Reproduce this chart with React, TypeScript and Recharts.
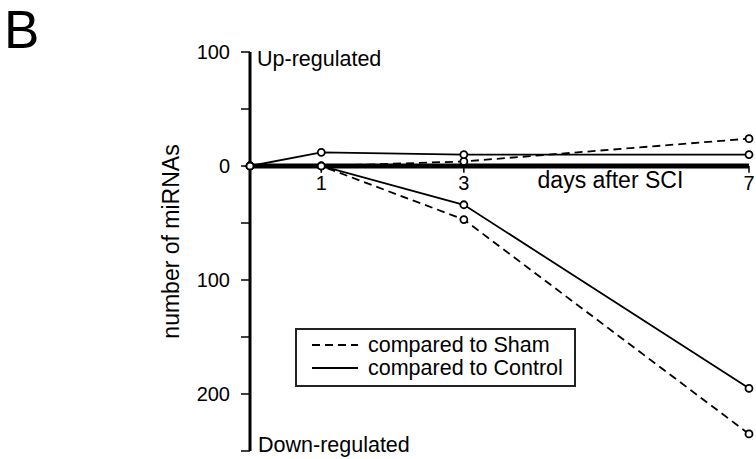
import React from "react";
import {
  LineChart,
  Line,
  XAxis,
  YAxis,
  ReferenceLine,
  ReferenceDot,
} from "recharts";

// days after spinal cord injury
const days = [0, 1, 3, 7];
// up-regulated miRNAs (positive), down-regulated (negative)
const shamUp = [0, 0, 4, 24];
const controlUp = [0, 12, 10, 10];
const shamDown = [0, 0, -47, -235];
const controlDown = [0, 0, -34, -195];

const yTicks = [100, 50, 0, -50, -100, -150, -200, -250];
const yLabelled = [100, 0, -100, -200];
const xTicks = [1, 3, 7];

const data = days.map((d, i) => ({
  day: d,
  shamUp: shamUp[i],
  controlUp: controlUp[i],
  shamDown: shamDown[i],
  controlDown: controlDown[i],
}));

const FONT = "'Liberation Sans', Arial, Helvetica, sans-serif";
// open circles, never dashed even on dashed series
const dot = { r: 3.5, stroke: "#000", strokeWidth: 1.8, fill: "#fff", strokeDasharray: "none" };

const App: React.FC = () => {
  return (
    <div style={{ position: "absolute", left: 0, top: 0, width: 756, height: 459, background: "#fff", fontFamily: FONT }}>
      <div style={{ position: "absolute", left: 4, top: 3, fontSize: 53, lineHeight: 1, color: "#000" }}>B</div>
      <LineChart width={756} height={459} data={data} margin={{ top: 52, right: 7, bottom: 8, left: 0 }} style={{ fontFamily: FONT }}>
        <XAxis dataKey="day" type="number" domain={[0, 7]} hide />
        <YAxis
          type="number"
          domain={[-250, 100]}
          ticks={yTicks}
          interval={0}
          width={250}
          tickSize={9}
          tickMargin={11}
          tickFormatter={(v: number) => (yLabelled.includes(v) ? String(Math.abs(v)) : "")}
          tick={{ fill: "#000", fontSize: 20 }}
          tickLine={{ stroke: "#000", strokeWidth: 1.5 }}
          axisLine={{ stroke: "#000", strokeWidth: 3 }}
          label={({ viewBox }: any) => (
            <text
              x={viewBox.x + 171}
              y={viewBox.y + viewBox.height / 2 - 10}
              transform={`rotate(-90 ${viewBox.x + 171} ${viewBox.y + viewBox.height / 2 - 10})`}
              textAnchor="middle"
              dominantBaseline="central"
              fontSize={23}
              fill="#000"
            >
              number of miRNAs
            </text>
          )}
        />
        <ReferenceLine y={0} stroke="#000" strokeWidth={5} />
        {xTicks.map((t) => (
          <ReferenceLine key={"t" + t} segment={[{ x: t, y: 0 }, { x: t, y: -6 }]} stroke="#000" strokeWidth={1.5} />
        ))}
        {xTicks.map((t) => (
          <ReferenceDot
            key={"l" + t}
            x={t}
            y={0}
            r={0}
            stroke="none"
            fill="none"
            label={({ viewBox }: any) => (
              <text x={viewBox.x} y={viewBox.y + 24} textAnchor="middle" fontSize={20} fill="#000">
                {t}
              </text>
            )}
          />
        ))}
        <ReferenceDot
          x={5}
          y={0}
          r={0}
          stroke="none"
          fill="none"
          label={({ viewBox }: any) => (
            <text x={viewBox.x + 4} y={viewBox.y + 22} textAnchor="middle" fontSize={23} fill="#000">
              days after SCI
            </text>
          )}
        />
        <ReferenceDot
          x={0}
          y={100}
          r={0}
          stroke="none"
          fill="none"
          label={({ viewBox }: any) => (
            <text x={viewBox.x + 7} y={viewBox.y + 14} fontSize={21.5} fill="#000">
              Up-regulated
            </text>
          )}
        />
        <ReferenceDot
          x={0}
          y={-250}
          r={0}
          stroke="none"
          fill="none"
          label={({ viewBox }: any) => (
            <text x={viewBox.x + 8} y={viewBox.y + 1} fontSize={21.5} fill="#000">
              Down-regulated
            </text>
          )}
        />
        <Line dataKey="shamDown" stroke="#000" strokeWidth={1.8} strokeDasharray="8 5" dot={dot} isAnimationActive={false} />
        <Line dataKey="controlDown" stroke="#000" strokeWidth={1.8} dot={dot} isAnimationActive={false} />
        <Line dataKey="shamUp" stroke="#000" strokeWidth={1.8} strokeDasharray="8 5" dot={dot} isAnimationActive={false} />
        <Line dataKey="controlUp" stroke="#000" strokeWidth={1.8} dot={dot} isAnimationActive={false} />
      </LineChart>
      <div
        style={{
          position: "absolute",
          left: 295,
          top: 328,
          width: 277,
          height: 51.5,
          border: "2px solid #222",
          background: "#fff",
          fontSize: 21.5,
          lineHeight: "23px",
          color: "#000",
          paddingTop: 3.5,
          boxSizing: "content-box",
        }}
      >
        {[
          { name: "compared to Sham", dash: "8 5" },
          { name: "compared to Control", dash: undefined },
        ].map((s) => (
          <div key={s.name} style={{ display: "flex", alignItems: "center", height: 23, whiteSpace: "nowrap" }}>
            <svg width={46} height={10} style={{ marginLeft: 15, marginRight: 10 }}>
              <line x1={0} y1={5} x2={46} y2={5} stroke="#000" strokeWidth={1.8} strokeDasharray={s.dash} />
            </svg>
            <span>{s.name}</span>
          </div>
        ))}
      </div>
    </div>
  );
};

export default App;
